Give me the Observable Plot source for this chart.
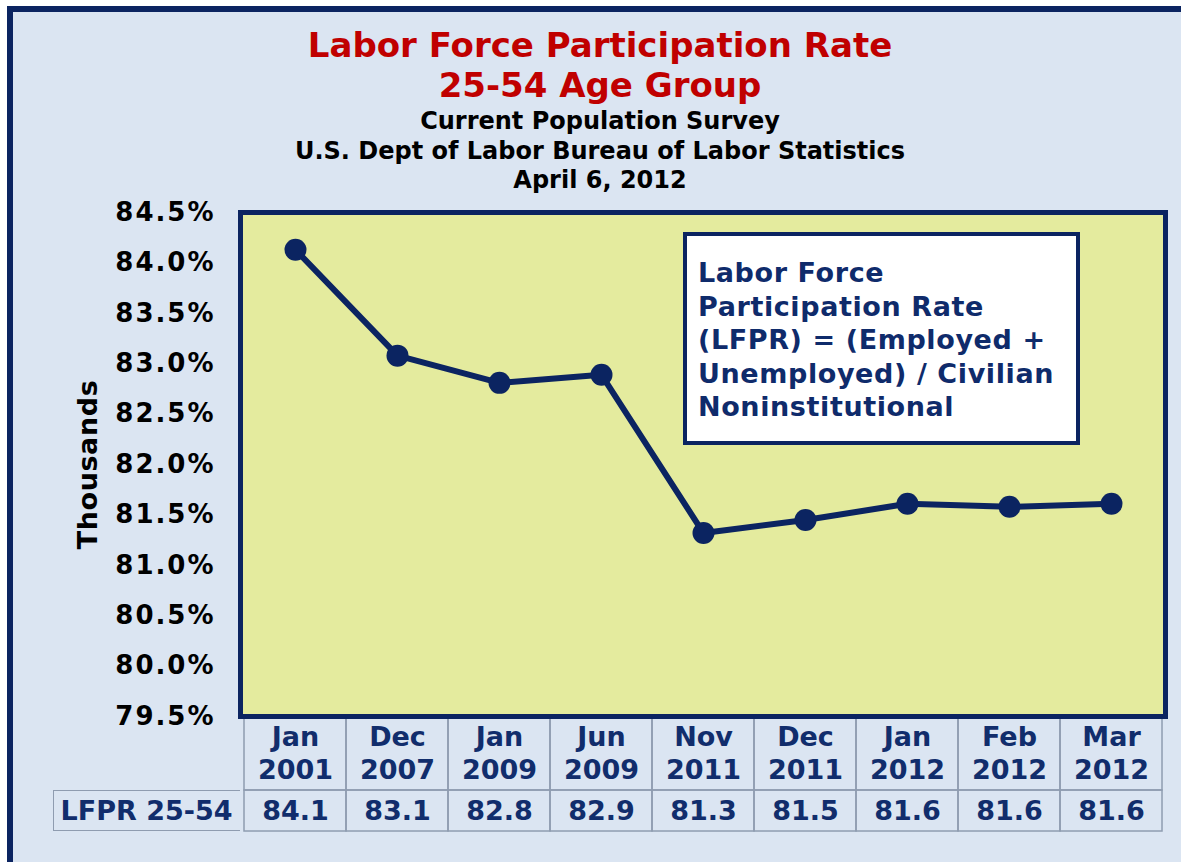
<!DOCTYPE html>
<html>
<head>
<meta charset="utf-8">
<script src="https://cdn.jsdelivr.net/npm/d3@7"></script>
<script src="https://cdn.jsdelivr.net/npm/@observablehq/plot@0.6"></script>
<style>
  html, body { margin: 0; padding: 0; background: #ffffff; width: 1181px; height: 862px; overflow: hidden; font-family: "DejaVu Sans", Verdana, sans-serif; }
  #panel { position: absolute; left: 7px; top: 6px; width: 1300px; height: 852px; background: #dbe5f2; border-left: 6px solid #0b2461; border-top: 6px solid #0b2461; border-bottom: 1px solid #a9b9d2; }
  #title { position: absolute; left: 0; top: 25px; width: 1200px; text-align: center; color: #c00000; font-weight: bold; font-size: 34px; line-height: 40px; }
  #subtitle { position: absolute; left: 0; top: 107px; width: 1200px; text-align: center; color: #000; font-weight: bold; font-size: 24px; line-height: 29.5px; }
  .plot { position: absolute; left: 0; }
  #chart { top: 190px; z-index: 3; }
  #header { top: 716px; z-index: 2; }
  #row { top: 790px; z-index: 2; }
  #chart [aria-label="y-axis tick label"] { letter-spacing: 2px; }
  #chart [aria-label="text"] { letter-spacing: 0.6px; }
  #labelcell { position: absolute; left: 53px; top: 790px; width: 187px; height: 41px; box-sizing: border-box; border: 1.5px solid #8f9cb0; border-right: none; z-index: 1; }
  #note { position: absolute; left: 683px; top: 232px; width: 397px; height: 213px; box-sizing: border-box; background: #ffffff; border: 4px solid #0b2461; z-index: 4; padding: 20px 0 0 11px; color: #0f2b6b; font-weight: bold; font-size: 27px; letter-spacing: 0.6px; line-height: 33.5px; white-space: pre; }
</style>
</head>
<body>
<div id="panel"></div>
<div id="title"></div>
<div id="subtitle"></div>
<div id="labelcell"></div>
<div id="note"></div>
<script>
// ---- data ----
const titleLines = ["Labor Force Participation Rate", "25-54 Age Group"];
const subtitleLines = ["Current Population Survey", "U.S. Dept of Labor Bureau of Labor Statistics", "April 6, 2012"];
const noteLines = ["Labor Force", "Participation Rate", "(LFPR) = (Employed +", "Unemployed) / Civilian", "Noninstitutional"];
const yLabel = "Thousands";
const rowLabel = "LFPR 25-54";
const months = ["Jan 2001", "Dec 2007", "Jan 2009", "Jun 2009", "Nov 2011", "Dec 2011", "Jan 2012", "Feb 2012", "Mar 2012"];
const rates = [84.13, 83.08, 82.81, 82.89, 81.32, 81.45, 81.61, 81.58, 81.61];
const tableValues = ["84.1", "83.1", "82.8", "82.9", "81.3", "81.5", "81.6", "81.6", "81.6"];
const yTicks = [79.5, 80.0, 80.5, 81.0, 81.5, 82.0, 82.5, 83.0, 83.5, 84.0, 84.5];

// ---- styles ----
const navy = "#0b2461";
const navyText = "#112d6c";
const plotFill = "#e4eb9e";
const cellStroke = "#8f9cb0";
const font = "'DejaVu Sans', Verdana, sans-serif";

document.getElementById("title").innerHTML = titleLines.join("<br>");
document.getElementById("subtitle").innerHTML = subtitleLines.join("<br>");
document.getElementById("note").textContent = noteLines.join("\n");

const data = months.map((m, i) => ({month: m, rate: rates[i], label: tableValues[i]}));

const W = 1181, ML = 240, MR = 16;

const chart = Plot.plot({
  width: W, height: 530,
  marginLeft: ML, marginRight: MR, marginTop: 22, marginBottom: 4,
  style: {background: "transparent", overflow: "visible", fontFamily: font, fontWeight: "bold", color: "#000"},
  x: {type: "point", domain: months, padding: 0.5, axis: null},
  y: {domain: [79.5, 84.5], axis: null},
  marks: [
    Plot.frame({fill: plotFill, stroke: navy, strokeWidth: 5}),
    Plot.axisY({ticks: yTicks, tickSize: 0, tickPadding: 25, tickFormat: d => d.toFixed(1) + "%", fontSize: 26, fontWeight: "bold", fill: "#000", label: null}),
    Plot.text([yLabel], {frameAnchor: "left", textAnchor: "middle", rotate: -90, dx: -152, fontSize: 27, fontWeight: "bold", fill: "#000"}),
    Plot.line(data, {x: "month", y: "rate", stroke: navy, strokeWidth: 6}),
    Plot.dot(data, {x: "month", y: "rate", r: 11, fill: navy})
  ]
});
chart.classList.add("plot"); chart.id = "chart";
document.body.appendChild(chart);

const header = Plot.plot({
  width: W, height: 74,
  marginLeft: ML, marginRight: MR, marginTop: 0, marginBottom: 0,
  style: {background: "transparent", overflow: "visible", fontFamily: font, fontWeight: "bold"},
  x: {type: "band", domain: months, padding: 0, axis: null},
  marks: [
    Plot.cell(months, {x: d => d, fill: "none", stroke: cellStroke, strokeWidth: 1.5}),
    Plot.text(months, {x: d => d, text: d => d.replace(" ", "\n"), dy: -2, fontSize: 27, fontWeight: "bold", fill: navyText, lineHeight: 1.22})
  ]
});
header.classList.add("plot"); header.id = "header";
document.body.appendChild(header);

const row = Plot.plot({
  width: W, height: 41,
  marginLeft: ML, marginRight: MR, marginTop: 0, marginBottom: 0,
  style: {background: "transparent", overflow: "visible", fontFamily: font, fontWeight: "bold"},
  x: {type: "band", domain: months, padding: 0, axis: null},
  y: {type: "band", domain: [rowLabel], padding: 0, axis: null},
  marks: [
    Plot.cell(data, {x: "month", y: () => rowLabel, fill: "none", stroke: cellStroke, strokeWidth: 1.5}),
    Plot.text(data, {x: "month", y: () => rowLabel, text: "label", fontSize: 27, fontWeight: "bold", fill: navyText}),
    Plot.axisY({tickSize: 0, tickPadding: 8, fontSize: 27, fontWeight: "bold", fill: navyText, label: null})
  ]
});
row.classList.add("plot"); row.id = "row";
document.body.appendChild(row);
</script>
</body>
</html>
